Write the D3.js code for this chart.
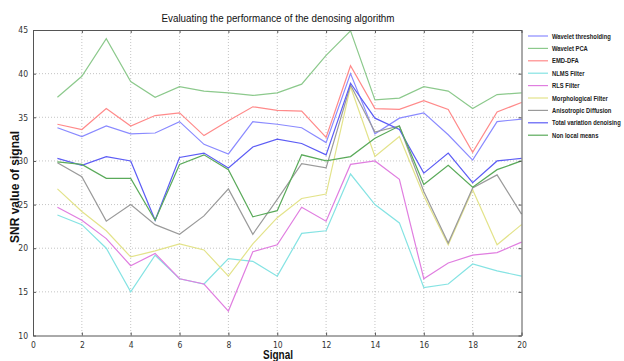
<!DOCTYPE html>
<html>
<head>
<meta charset="utf-8">
<script src="https://cdn.jsdelivr.net/npm/d3@7"></script>
<style>
  body { margin: 0; background: #fff; }
  svg { display: block; }
  .tick text { font-family: "Liberation Sans Narrow", "DejaVu Sans Condensed", "Liberation Sans", sans-serif; font-size: 8.5px; fill: #333; }
  .lbl { font-family: "Liberation Sans", Arial, sans-serif; font-weight: bold; fill: #111; }
  .leg text { font-family: "Liberation Sans", Arial, sans-serif; font-weight: bold; font-size: 7.5px; fill: #222; }
</style>
</head>
<body>
<svg width="624" height="361"></svg>
<script>
// signal index 1..20
var signals = [1,2,3,4,5,6,7,8,9,10,11,12,13,14,15,16,17,18,19,20];

var xTicks = [0,2,4,6,8,10,12,14,16,18,20];
var yTicks = [10,15,20,25,30,35,40,45];

var names = ["Wavelet thresholding","Wavelet PCA","EMD-DFA","NLMS Filter","RLS Filter",
             "Morphological Filter","Anisotropic Diffusion","Total variation denoising","Non local means"];

var waveletThr = [33.8,32.8,34.0,33.1,33.2,34.5,31.9,30.8,34.5,34.2,33.8,32.1,40.0,33.1,34.9,35.5,33.0,30.1,34.5,34.8];
var waveletPca = [37.3,39.7,44.0,39.1,37.3,38.5,38.0,37.8,37.5,37.8,38.8,42.1,44.9,37.0,37.2,38.5,38.0,36.0,37.6,37.8];
var emdDfa     = [34.2,33.6,36.0,34.0,35.2,35.5,32.9,34.6,36.2,35.8,35.7,32.7,40.9,36.0,35.9,36.9,35.9,31.0,35.6,36.7];
var nlms       = [23.8,22.7,20.0,15.0,19.2,16.5,15.9,18.8,18.5,16.8,21.7,22.0,28.5,25.0,22.9,15.5,15.9,18.2,17.4,16.8];
var rls        = [24.7,23.2,21.1,18.0,19.4,16.5,15.9,12.8,19.6,20.4,24.7,23.1,29.6,30.0,27.9,16.5,18.3,19.2,19.5,20.7];
var morph      = [26.8,24.2,22.0,19.0,19.7,20.5,19.8,16.8,20.5,23.5,25.7,26.2,38.5,30.5,32.8,26.0,20.4,26.7,20.4,22.7];
var aniso      = [29.8,28.2,23.1,25.0,22.7,21.6,23.7,26.8,21.6,25.6,29.7,29.2,38.7,33.3,34.0,26.5,20.6,26.9,28.4,23.9];
var totalVar   = [30.3,29.5,30.5,30.0,23.2,30.4,30.9,29.2,31.6,32.5,32.0,30.7,38.9,34.9,33.6,28.6,30.9,27.5,30.0,30.3];
var nonLocal   = [29.9,29.6,28.0,28.0,23.2,29.6,30.7,29.0,23.6,24.3,30.7,30.0,30.5,32.6,34.0,27.3,29.5,27.0,29.0,30.0];

var series = [waveletThr, waveletPca, emdDfa, nlms, rls, morph, aniso, totalVar, nonLocal];
var colors = ["#8a8aff","#8cc98c","#ff8a8a","#85e3e3","#e07ee0","#e3e38a","#9a9a9a","#5c5cf5","#5aaa5a"];

var svg = d3.select("svg");
var mLeft = 33, mRight = 521.5, mTop = 30, mBottom = 335.5;

var x = d3.scaleLinear().domain([0,20]).range([mLeft, mRight]);
var y = d3.scaleLinear().domain([10,45]).range([mBottom, mTop]);

// grid
var grid = svg.append("g").attr("stroke", "#b5b5b5").attr("stroke-width", 0.8).attr("stroke-dasharray", "1,2");
grid.selectAll(".gx").data(xTicks.slice(1, -1)).enter().append("line")
    .attr("x1", function(d) { return x(d); }).attr("x2", function(d) { return x(d); })
    .attr("y1", mTop).attr("y2", mBottom);
grid.selectAll(".gy").data(yTicks.slice(1, -1)).enter().append("line")
    .attr("y1", function(d) { return y(d); }).attr("y2", function(d) { return y(d); })
    .attr("x1", mLeft).attr("x2", mRight);

// lines
var line = d3.line()
    .x(function(d, i) { return x(signals[i]); })
    .y(function(d) { return y(d); });

svg.append("g").selectAll("path").data(series).enter().append("path")
    .attr("fill", "none")
    .attr("stroke", function(d, i) { return colors[i]; })
    .attr("stroke-width", 1.2)
    .attr("d", line);

// axes (matlab style box, inward ticks)
var xAxis = d3.axisBottom(x).tickValues(xTicks).tickSizeInner(-3).tickSizeOuter(0).tickPadding(6);
var yAxis = d3.axisLeft(y).tickValues(yTicks).tickSizeInner(-3).tickSizeOuter(0).tickPadding(5);

svg.append("g").attr("transform", "translate(0," + mBottom + ")").call(xAxis);
svg.append("g").attr("transform", "translate(" + mLeft + ",0)").call(yAxis);
svg.append("g").attr("transform", "translate(0," + mTop + ")")
    .call(d3.axisTop(x).tickValues(xTicks).tickSizeInner(-3).tickSizeOuter(0).tickFormat(""));
svg.append("g").attr("transform", "translate(" + mRight + ",0)")
    .call(d3.axisRight(y).tickValues(yTicks).tickSizeInner(-3).tickSizeOuter(0).tickFormat(""));

svg.selectAll(".domain").attr("stroke", "#555");
svg.selectAll(".tick line").attr("stroke", "#555");

// titles
svg.append("text").attr("class", "lbl")
    .attr("x", 278).attr("y", 22)
    .attr("text-anchor", "middle")
    .style("font-size", "11px").style("font-weight", "normal")
    .attr("textLength", 233).attr("lengthAdjust", "spacingAndGlyphs")
    .text("Evaluating the performance of the denosing algorithm");

svg.append("text").attr("class", "lbl")
    .attr("x", 278).attr("y", 359)
    .attr("text-anchor", "middle")
    .style("font-size", "12px")
    .attr("textLength", 30).attr("lengthAdjust", "spacingAndGlyphs")
    .text("Signal");

svg.append("text").attr("class", "lbl")
    .attr("transform", "translate(19,187) rotate(-90)")
    .attr("text-anchor", "middle")
    .style("font-size", "12px")
    .attr("textLength", 112).attr("lengthAdjust", "spacingAndGlyphs")
    .text("SNR value of signal");

// legend
var leg = svg.append("g").attr("class", "leg");
var item = leg.selectAll("g").data(names).enter().append("g")
    .attr("transform", function(d, i) { return "translate(528," + (36 + i * 12.4) + ")"; });
item.append("line").attr("x1", 0).attr("x2", 20)
    .attr("stroke", function(d, i) { return colors[i]; }).attr("stroke-width", 1.2);
item.append("text")
    .attr("transform", "translate(24,2.6) scale(0.78,1)")
    .text(function(d) { return d; });
</script>
</body>
</html>
